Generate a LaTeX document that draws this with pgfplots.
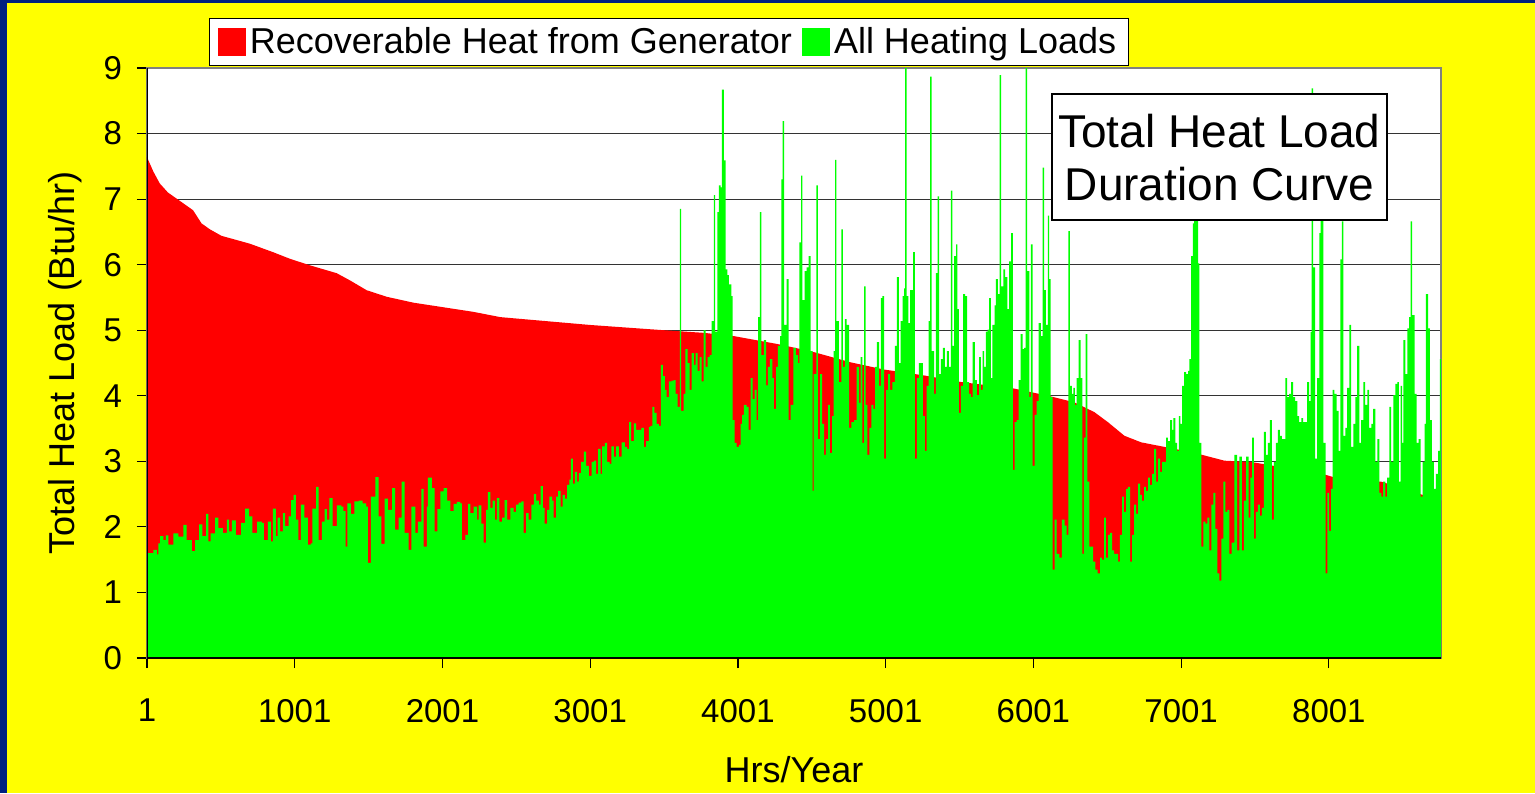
\documentclass[border=0pt]{standalone}
\usepackage{fontspec}
\setmainfont{Liberation Sans}
\usepackage{pgfplots}
\pgfplotsset{compat=1.18}
\definecolor{bgyellow}{RGB}{255,255,0}
\definecolor{navyband}{RGB}{0,32,128}
\definecolor{xlgreen}{RGB}{0,255,0}
\definecolor{xlred}{RGB}{255,0,0}

\begin{document}
\begin{tikzpicture}
% 1 px of the reference = 0.5pt
\useasboundingbox (0pt,0pt) rectangle (767.5pt,396.5pt);
\fill[bgyellow] (0pt,0pt) rectangle (767.5pt,396.5pt);
\fill[navyband] (0pt,0pt) rectangle (3.5pt,396.5pt);
\fill[navyband] (0pt,395pt) rectangle (767.5pt,396.5pt);
\begin{axis}[
  at={(73.5pt,67.5pt)}, anchor=south west,
  scale only axis, width=647pt, height=295pt,
  xmin=1, xmax=8760, ymin=0, ymax=9,
  xtick={1,1001,2001,3001,4001,5001,6001,7001,8001},
  ytick={0,1,...,9},
  xtick pos=left, ytick pos=left,
  tick align=outside, major tick length=5pt,
  tick style={black, line width=0.6pt},
  axis background/.style={fill=white},
  axis line style={draw=gray, line width=1pt},
  ymajorgrids,
  major grid style={black!80, line width=0.5pt},
  /pgf/number format/.cd, 1000 sep={}, assume math mode=true, /pgfplots/.cd,
  ticklabel style={font=\fontsize{16.5}{19}\selectfont},
  xticklabel style={yshift=-12pt},
  yticklabel style={xshift=-4pt},
  xlabel={Hrs/Year},
  ylabel={Total Heat Load (Btu/hr)},
  xlabel style={at={(axis description cs:0.5,-0.1898)}, anchor=center, font=\fontsize{18}{21}\selectfont},
  ylabel style={at={(axis description cs:-0.0634,0.5)}, anchor=center, font=\fontsize{18}{21}\selectfont},
  legend columns=2,
  legend style={at={(0.4034,1.0034)}, anchor=south, draw=black, line width=0.6pt, fill=white,
    font=\fontsize{18}{21}\selectfont, inner xsep=4pt, inner ysep=2.5pt,
    /tikz/every even column/.append style={column sep=3pt}},
  legend image code/.code={\path[#1] (0pt,-7pt) rectangle (14pt,7pt);},
]
% duration curve of recoverable heat
\addplot[fill=xlred, draw=none] coordinates {
(1,7.64) (44,7.42) (87,7.24) (143,7.10) (200,7.01) (313,6.83) (370,6.63) (426,6.54)
(505,6.44) (697,6.32) (855,6.19) (968,6.09) (1104,5.99) (1285,5.87) (1375,5.76)
(1488,5.61) (1624,5.51) (1805,5.42) (2008,5.35) (2211,5.28) (2392,5.20) (3002,5.08)
(3500,5.00) (3770,4.96) (3974,4.91) (4267,4.79) (4493,4.68) (4764,4.51) (4991,4.40)
(5262,4.31) (5510,4.21) (5871,4.11) (6120,3.99) (6278,3.90) (6414,3.75) (6504,3.60)
(6617,3.39) (6730,3.29) (6888,3.22) (7001,3.17) (7124,3.11) (7294,3.01) (7475,2.99)
(7970,2.80) (8107,2.71) (8355,2.69) (8717,2.43) (8760,2.40)
} \closedcycle;
\addlegendentry{Recoverable Heat from Generator}
% all heating loads
\addplot[const plot, fill=xlgreen, draw=none] coordinates {
(1,1.60) (10,1.60) (44,1.65) (67,1.58) (78,1.75) (89,1.86) (112,1.80) (128,1.87)
(146,1.73) (180,1.90) (213,1.85) (247,2.03) (270,1.80) (292,1.80) (304,1.63) (326,1.80)
(353,2.04) (376,1.86) (401,2.20) (417,1.78) (432,1.90) (462,2.14) (484,1.98) (514,1.91)
(541,2.11) (557,1.93) (575,2.10) (602,1.88) (638,2.06) (665,2.28) (692,2.16) (715,1.91)
(746,2.08) (778,2.06) (792,1.80) (819,2.08) (839,1.78) (853,2.28) (873,1.86) (886,2.14)
(902,1.93) (920,2.21) (936,2.01) (959,2.16) (977,2.41) (993,2.49) (1008,2.11) (1026,1.80)
(1042,2.34) (1067,2.14) (1090,1.73) (1110,1.75) (1121,2.28) (1146,2.61) (1162,1.80)
(1185,2.08) (1203,2.27) (1218,2.11) (1236,2.44) (1257,2.01) (1286,2.33) (1316,2.31)
(1331,2.24) (1345,1.70) (1358,2.36) (1381,2.20) (1404,2.39) (1433,2.40) (1460,2.36)
(1485,2.31) (1496,1.45) (1517,2.46) (1546,2.76) (1568,2.16) (1587,1.74) (1609,2.43)
(1632,2.26) (1661,2.59) (1681,1.96) (1704,2.14) (1724,2.69) (1745,1.91) (1772,1.65)
(1790,2.31) (1817,1.91) (1835,2.08) (1858,2.58) (1873,1.70) (1896,2.31) (1903,2.75)
(1930,2.59) (1948,1.93) (1966,2.27) (1986,2.54) (2009,2.59) (2032,2.40) (2054,2.24)
(2077,2.35) (2099,2.38) (2122,2.36) (2133,1.80) (2156,1.88) (2174,2.35) (2190,2.21)
(2212,2.31) (2235,2.11) (2246,2.33) (2264,2.05) (2280,1.76) (2296,2.26) (2309,2.53)
(2325,2.29) (2341,2.40) (2355,2.11) (2370,2.44) (2386,2.08) (2404,2.14) (2422,2.41)
(2438,2.11) (2461,2.29) (2483,2.23) (2499,2.34) (2517,2.37) (2535,2.39) (2551,1.91)
(2567,2.21) (2585,2.11) (2603,2.34) (2619,2.50) (2635,2.40) (2653,2.34) (2666,2.62)
(2680,2.29) (2693,2.05) (2709,2.26) (2725,2.46) (2743,2.40) (2754,2.14) (2770,2.46)
(2784,2.55) (2800,2.31) (2815,2.49) (2829,2.43) (2845,2.64) (2860,2.72) (2870,3.04)
(2883,2.66) (2897,2.84) (2912,2.69) (2924,2.82) (2940,2.99) (2958,3.15) (2973,2.93)
(2992,2.78) (3010,2.99) (3025,3.01) (3041,2.81) (3055,3.19) (3071,2.81) (3082,3.23)
(3100,3.28) (3116,2.99) (3132,2.96) (3145,3.23) (3161,3.07) (3177,3.23) (3195,3.07)
(3213,3.29) (3235,3.22) (3251,3.19) (3265,3.60) (3278,3.31) (3296,3.58) (3312,3.48)
(3330,3.48) (3348,3.51) (3364,3.22) (3380,3.31) (3398,3.52) (3409,3.54) (3421,3.83)
(3436,3.74) (3450,3.57) (3466,3.54) (3479,4.47) (3493,4.30) (3506,4.09) (3518,3.98)
(3534,4.22) (3552,4.23) (3567,4.24) (3579,4.03) (3592,3.83) (3608,6.85) (3617,3.77)
(3633,4.03) (3646,4.71) (3660,4.50) (3674,4.09) (3687,4.65) (3703,4.47) (3714,4.65)
(3728,4.38) (3741,4.59) (3755,4.22) (3768,5.00) (3782,4.44) (3796,4.59) (3809,4.62)
(3823,5.14) (3838,7.06) (3847,4.98) (3861,6.80) (3872,7.21) (3884,7.18) (3893,8.67)
(3906,7.59) (3917,5.93) (3929,5.84) (3940,5.70) (3956,5.52) (3965,3.63) (3978,3.28)
(3992,3.22) (4008,3.25) (4019,3.57) (4030,3.71) (4042,3.86) (4060,3.83) (4073,3.48)
(4087,4.27) (4100,3.95) (4114,4.09) (4128,3.63) (4137,5.20) (4150,6.80) (4160,4.62)
(4177,4.85) (4191,4.16) (4204,4.44) (4218,4.56) (4234,4.27) (4245,3.80) (4259,4.44)
(4272,4.76) (4286,4.91) (4295,7.30) (4304,8.19) (4313,5.08) (4331,5.78) (4344,3.63)
(4358,3.86) (4376,4.73) (4394,4.62) (4408,4.50) (4417,6.34) (4428,7.36) (4437,5.46)
(4453,5.90) (4466,5.96) (4480,6.13) (4493,4.68) (4507,2.55) (4514,4.33) (4532,7.21)
(4542,3.34) (4557,4.33) (4570,3.57) (4584,3.10) (4597,3.34) (4611,3.86) (4624,3.13)
(4638,3.69) (4649,4.68) (4658,7.60) (4668,5.14) (4685,4.21) (4701,6.54) (4711,4.44)
(4724,5.17) (4737,5.08) (4753,3.51) (4769,3.60) (4787,3.63) (4805,4.44) (4821,3.89)
(4832,4.59) (4843,3.28) (4855,5.67) (4865,3.86) (4877,3.10) (4891,3.51) (4904,3.86)
(4918,3.80) (4929,4.44) (4941,4.82) (4956,4.15) (4968,5.49) (4979,5.52) (4990,3.04)
(5004,4.09) (5017,4.33) (5031,4.09) (5047,4.21) (5063,4.76) (5076,5.81) (5090,4.50)
(5103,5.14) (5115,5.52) (5126,5.64) (5133,9.00) (5143,5.52) (5155,5.11) (5166,5.61)
(5178,5.61) (5187,6.19) (5198,3.04) (5212,4.27) (5225,4.50) (5239,4.50) (5252,3.69)
(5266,3.16) (5279,4.15) (5291,5.14) (5302,8.87) (5312,4.68) (5329,4.03) (5340,5.87)
(5352,7.04) (5362,4.33) (5374,4.56) (5388,4.73) (5401,4.44) (5415,4.68) (5428,4.44)
(5442,7.13) (5452,4.76) (5465,6.13) (5478,6.31) (5487,5.32) (5496,3.74) (5510,4.15)
(5526,5.55) (5539,5.52) (5553,4.21) (5566,4.03) (5578,3.98) (5589,4.82) (5605,4.24)
(5618,4.01) (5634,4.59) (5645,4.09) (5657,4.68) (5668,4.44) (5679,4.98) (5691,5.01)
(5702,5.49) (5713,4.27) (5724,5.08) (5738,5.38) (5747,5.78) (5761,5.55) (5772,8.89)
(5782,5.67) (5797,5.93) (5810,5.81) (5824,5.32) (5837,6.05) (5851,6.48) (5862,2.87)
(5874,3.60) (5887,3.63) (5901,4.24) (5914,4.94) (5928,4.71) (5939,4.73) (5948,9.10)
(5958,5.90) (5973,3.98) (5984,6.31) (5995,2.93) (6009,3.71) (6022,3.92) (6036,5.11)
(6052,4.91) (6063,7.48) (6073,5.61) (6086,5.08) (6099,6.75) (6108,5.78) (6118,3.98)
(6131,1.35) (6145,2.11) (6158,1.59) (6176,1.53) (6194,2.11) (6212,2.02) (6226,1.88)
(6237,6.51) (6247,4.15) (6262,4.03) (6271,4.12) (6282,3.86) (6294,4.27) (6307,4.85)
(6321,4.27) (6332,1.59) (6343,3.36) (6355,4.94) (6366,2.69) (6379,1.70) (6393,1.70)
(6406,1.47) (6420,1.35) (6436,1.29) (6452,1.53) (6465,1.50) (6479,2.14) (6492,1.53)
(6506,1.88) (6519,1.91) (6533,1.64) (6547,1.59) (6560,1.59) (6574,1.47) (6587,1.88)
(6601,2.46) (6614,2.23) (6628,2.58) (6641,2.61) (6655,1.47) (6669,1.88) (6682,2.34)
(6696,2.20) (6709,2.66) (6723,2.49) (6736,2.40) (6750,2.61) (6763,2.55) (6777,2.75)
(6790,2.64) (6804,2.81) (6818,3.19) (6831,2.69) (6845,3.04) (6858,2.84) (6872,2.99)
(6885,2.99) (6899,3.36) (6912,3.31) (6926,3.63) (6940,3.48) (6949,3.66) (6962,3.28)
(6973,3.16) (6985,3.69) (6996,3.57) (7007,4.15) (7021,4.36) (7034,4.33) (7048,4.38)
(7057,4.56) (7068,6.13) (7080,6.63) (7089,7.20) (7102,6.78) (7116,6.02) (7125,3.28)
(7138,1.70) (7152,2.08) (7165,2.05) (7179,2.14) (7192,1.64) (7206,2.34) (7220,2.52)
(7233,1.97) (7247,1.29) (7260,1.18) (7274,1.82) (7287,2.69) (7301,2.23) (7314,2.26)
(7328,1.59) (7342,1.76) (7362,3.10) (7380,1.64) (7396,3.07) (7412,1.64) (7425,2.40)
(7441,3.07) (7457,2.14) (7470,2.75) (7482,3.36) (7493,1.82) (7506,2.23) (7520,2.34)
(7534,2.17) (7547,2.29) (7561,3.45) (7574,3.10) (7588,3.28) (7601,3.63) (7615,2.11)
(7628,2.99) (7642,3.28) (7656,3.48) (7669,3.39) (7683,3.34) (7696,3.34) (7707,4.27)
(7719,3.98) (7732,4.03) (7746,4.21) (7759,3.98) (7773,3.92) (7787,3.69) (7800,3.60)
(7814,3.66) (7827,3.60) (7841,3.60) (7854,4.21) (7868,3.92) (7877,4.97) (7884,8.69)
(7894,5.96) (7908,3.04) (7922,4.27) (7936,6.48) (7945,6.78) (7954,6.80) (7964,3.28)
(7979,1.29) (7990,2.52) (8003,1.94) (8017,2.58) (8026,4.09) (8039,4.03) (8053,3.77)
(8067,3.16) (8078,6.08) (8089,6.66) (8099,3.39) (8112,3.51) (8125,4.12) (8139,5.08)
(8152,3.22) (8166,3.57) (8180,3.98) (8193,4.76) (8207,3.28) (8220,3.63) (8234,4.21)
(8247,3.86) (8261,4.09) (8274,3.51) (8288,3.57) (8301,3.80) (8315,2.99) (8329,3.34)
(8342,2.52) (8356,2.46) (8369,2.69) (8383,2.46) (8396,2.75) (8410,3.83) (8423,2.99)
(8437,4.01) (8451,4.18) (8464,4.21) (8475,2.69) (8487,4.15) (8496,3.28) (8505,4.85)
(8518,4.33) (8532,5.03) (8545,5.20) (8554,6.66) (8564,5.23) (8582,4.03) (8595,3.28)
(8609,3.34) (8622,2.46) (8636,2.99) (8649,3.57) (8658,5.55) (8672,5.03) (8685,3.63)
(8699,2.99) (8712,2.58) (8726,2.81) (8740,3.16) (8753,4.56) (8760,4.56)
} \closedcycle;
\addlegendentry{All Heating Loads}
\draw[black, line width=0.6pt] (rel axis cs:0,1) -- (rel axis cs:0,0) -- (rel axis cs:1,0);
\node[draw=black, fill=white, line width=0.6pt, align=center, inner sep=0pt,
  minimum width=167.5pt, minimum height=63pt, font=\fontsize{23}{26.5}\selectfont]
  at (rel axis cs:0.8288,0.849) {Total Heat Load\\Duration Curve};
\end{axis}
\end{tikzpicture}
\end{document}
